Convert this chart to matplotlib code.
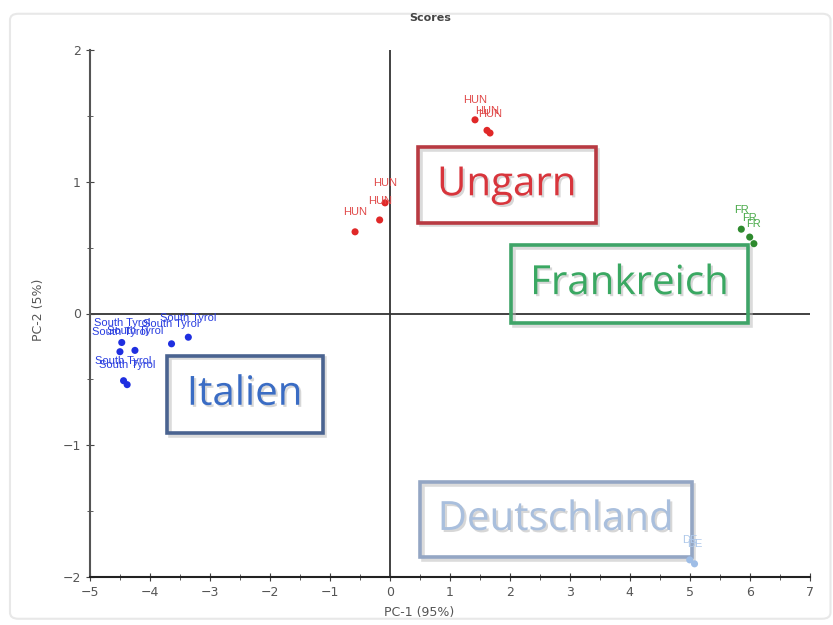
import numpy as np
import matplotlib
matplotlib.use("Agg")
import matplotlib.pyplot as plt
import matplotlib.patheffects as pe
from matplotlib.patches import Rectangle, FancyBboxPatch
from matplotlib.ticker import MultipleLocator

# scores per origin group
it_x = [-4.47, -4.50, -4.25, -3.64, -3.36, -4.44, -4.38]
it_y = [-0.22, -0.29, -0.28, -0.23, -0.18, -0.51, -0.54]
it_lab = ["South Tyrol"] * len(it_x)

hu_x = [-0.58, -0.17, -0.08, 1.42, 1.62, 1.67]
hu_y = [0.62, 0.71, 0.84, 1.47, 1.39, 1.37]
hu_lab = ["HUN"] * len(hu_x)

fr_x = [5.86, 6.00, 6.07]
fr_y = [0.64, 0.58, 0.53]
fr_lab = ["FR"] * len(fr_x)

de_x = [5.00, 5.08]
de_y = [-1.87, -1.90]
de_lab = ["DE"] * len(de_x)

# country boxes: name, x0, y0, x1, y1
box_names = ["Ungarn", "Frankreich", "Italien", "Deutschland"]
box_x0 = [0.47, 2.02, -3.72, 0.50]
box_x1 = [3.43, 5.97, -1.12, 5.03]
box_y0 = [0.69, -0.07, -0.91, -1.85]
box_y1 = [1.26, 0.52, -0.32, -1.28]

groups = [
    (it_x, it_y, it_lab, "#1f2fe0", "#2a3ee0"),
    (hu_x, hu_y, hu_lab, "#e02828", "#e04848"),
    (fr_x, fr_y, fr_lab, "#2e8a2e", "#4aaa4a"),
    (de_x, de_y, de_lab, "#9ebde6", "#aec8ea"),
]
box_text_col = ["#d8353c", "#3aa862", "#3a6cc4", "#a9bfdd"]
box_edge_col = ["#b83a42", "#3fa468", "#4a6390", "#94a6c4"]

fig = plt.figure(figsize=(8.33, 6.25), dpi=100)
ax = fig.add_axes([0.108, 0.0768, 0.864, 0.8432])

frame = FancyBboxPatch((0.012, 0.01), 0.985, 0.968, boxstyle="round,pad=0,rounding_size=0.01",
                       transform=fig.transFigure, fill=False, edgecolor="#e8e8e8", lw=1.5)
fig.patches.append(frame)

ax.axhline(0, color="#333333", lw=1.3, zorder=1)
ax.axvline(0, color="#333333", lw=1.3, zorder=1)

for xs, ys, labs, pcol, tcol in groups:
    ax.scatter(xs, ys, s=26, color=pcol, zorder=3, edgecolors="none")
    for x, y, t in zip(xs, ys, labs):
        ax.annotate(t, (x, y), xytext=(0, 14), textcoords="offset points",
                    ha="center", va="center", fontsize=8, color=tcol,
                    family="Liberation Sans", zorder=4)

for name, x0, x1, y0, y1, tc, ec in zip(box_names, box_x0, box_x1, box_y0, box_y1,
                                        box_text_col, box_edge_col):
    r = Rectangle((x0, y0), x1 - x0, y1 - y0, fill=False, edgecolor=ec, lw=2.6, zorder=2,
                  path_effects=[pe.SimpleLineShadow(offset=(2, -2), shadow_color="#b8b8b8",
                                                    alpha=0.5),
                                pe.Normal()])
    ax.add_patch(r)
    ax.text((x0 + x1) / 2, (y0 + y1) / 2, name, ha="center", va="center", fontsize=29,
            color=tc, family="Open Sans", zorder=3,
            path_effects=[pe.withSimplePatchShadow(offset=(1.5, -1.5), shadow_rgbFace="#b0b0b0",
                                                   alpha=0.5)])

ax.set_xlim(-5, 7)
ax.set_ylim(-2, 2)
ax.xaxis.set_major_locator(MultipleLocator(1))
ax.xaxis.set_minor_locator(MultipleLocator(0.5))
ax.yaxis.set_major_locator(MultipleLocator(1))
ax.yaxis.set_minor_locator(MultipleLocator(0.5))
ax.spines["top"].set_visible(False)
ax.spines["right"].set_visible(False)
ax.spines["left"].set_color("#555555")
ax.spines["bottom"].set_color("#222222")
ax.spines["left"].set_linewidth(1.5)
ax.spines["bottom"].set_linewidth(1.5)
ax.tick_params(which="both", direction="inout", colors="#444444", labelsize=9, labelcolor="#555555")
ax.tick_params(which="major", length=6)
ax.tick_params(which="minor", length=4)

ax.set_xlabel("PC-1 (95%)", fontsize=9, color="#555555")
ax.set_ylabel("PC-2 (5%)", fontsize=9, color="#555555")
ax.xaxis.set_label_coords(0.458, -0.055)
ax.yaxis.set_label_coords(-0.0625, 0.507)
fig.text(0.516, 0.971, "Scores", ha="center", va="center", fontsize=8, color="#444444",
         fontweight="bold")

fig.savefig("out.png", dpi=100)
